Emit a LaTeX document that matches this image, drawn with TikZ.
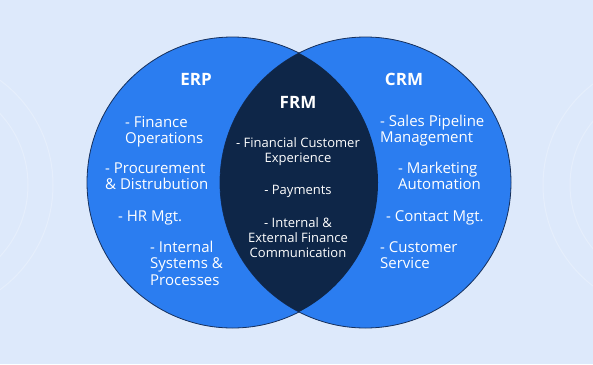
\documentclass[tikz,border=0pt]{standalone}
\usepackage{fontspec}
\setmainfont{Open Sans}
\usetikzlibrary{positioning}
\definecolor{bgblue}{RGB}{221,233,251}
\definecolor{setblue}{RGB}{43,125,240}
\definecolor{navy}{RGB}{14,38,72}
\definecolor{rimline}{RGB}{22,48,92}
\tikzset{
  setcirc/.style={circle,draw=rimline,line width=0.8pt,fill=setblue,minimum size=291pt,inner sep=0pt},
  ring/.style={draw=white,opacity=0.25,line width=1pt},
  ttl/.style={font=\fontsize{17}{20}\selectfont\bfseries,text=white,inner sep=0pt,anchor=base},
  item/.style={font=\fontsize{15}{16.5}\selectfont,text=white,align=left,inner sep=0pt,anchor=base west},
  citem/.style={item,font=\fontsize{13}{14.8}\selectfont,align=center,anchor=base}
}

\begin{document}
\begin{tikzpicture}[x=1pt,y=-1pt]
  \useasboundingbox (0,0) rectangle (593,364);
  \fill[bgblue] (0,0) rectangle (593,364);

  % faint rings at the sides
  \begin{scope}
    \clip (0,0) rectangle (593,364);
    \draw[ring] (-77,185) circle (105pt);
    \draw[ring] (-77,185) circle (130pt);
    \draw[ring] (670,185) circle (100pt);
    \draw[ring] (670,185) circle (127pt);
  \end{scope}

  % the two sets
  \node[setcirc] (erpc) at (232.5,182.5) {};
  \node[setcirc] (crmc) at (365.5,182.5) {};

  % overlap
  \begin{scope}
    \clip (crmc.center) circle (145.5pt);
    \fill[navy] (erpc.center) circle (145.5pt);
  \end{scope}

  % ERP (base = last line)
  \node[ttl] (erp) at (196,85) {ERP};
  \node[item] (erp1) at (125,143.5) {- Finance\\Operations};
  \node[item] (erp2) at (105,189.5) {- Procurement\\\& Distrubution};
  \node[item] (erp3) at (118,221) {- HR Mgt.};
  \node[item] (erp4) at (150,285) {- Internal\\Systems \&\\Processes};

  % FRM
  \node[ttl] (frm) at (298,108) {FRM};
  \node[citem] (frm1) at (298,162) {- Financial Customer\\Experience};
  \node[citem] (frm2) at (298,194) {- Payments};
  \node[citem] (frm3) at (298,257) {- Internal \&\\External Finance\\Communication};

  % CRM
  \node[ttl] (crm) at (404,85) {CRM};
  \node[item] (crm1) at (380,142.5) {- Sales Pipeline\\Management};
  \node[item] (crm2) at (398,189.5) {- Marketing\\Automation};
  \node[item] (crm3) at (386,221) {- Contact Mgt.};
  \node[item] (crm4) at (380,268.5) {- Customer\\Service};
\end{tikzpicture}
\end{document}
